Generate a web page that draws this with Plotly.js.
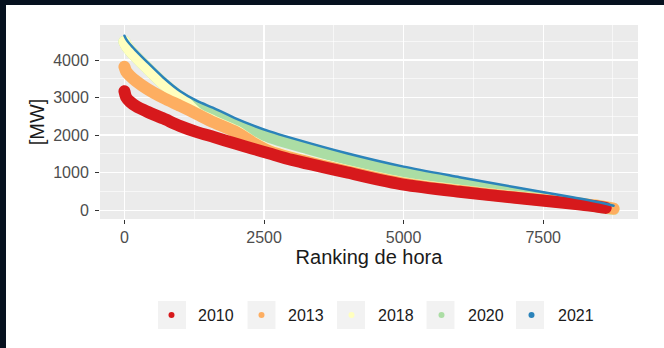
<!DOCTYPE html>
<html>
<head>
<meta charset="utf-8">
<script src="https://cdn.plot.ly/plotly-3.0.1.min.js"></script>
<style>
  html, body { margin: 0; padding: 0; background: #ffffff; }
  #chart { width: 664px; height: 348px; }
  .scatterlayer .js-line { stroke-linecap: round; stroke-linejoin: round; }
</style>
</head>
<body>
<div id="chart"></div>
<script>
// ---- data ----
const years = ["2010", "2013", "2018", "2020", "2021"];
const hours = [0, 30, 100, 200, 400, 700, 1000, 1300, 1600, 2000, 2300, 2600, 3000, 4000, 5000, 6000, 7000, 8000, 8500, 8760];
const hours2010 = [0, 30, 100, 200, 400, 700, 1000, 1300, 1600, 2000, 2300, 2600, 3000, 4000, 5000, 6000, 7000, 8000, 8400, 8620];
const mw2010 = [3170, 3010, 2890, 2780, 2630, 2440, 2240, 2080, 1950, 1770, 1640, 1510, 1340, 1000, 680, 490, 330, 180, 110, 60];
const mw2013 = [3820, 3700, 3580, 3450, 3240, 2990, 2780, 2560, 2340, 2080, 1800, 1570, 1390, 1030, 710, 510, 345, 195, 110, 40];
const mw2018 = [4490, 4400, 4260, 4100, 3800, 3370, 3010, 2580, 2360, 2100, 1810, 1580, 1400, 1040, 720, 520, 350, 200, 110, 40];
const mw2020 = [4490, 4400, 4260, 4100, 3800, 3370, 3010, 2750, 2560, 2280, 2110, 1950, 1770, 1360, 1010, 730, 460, 210, 90, 30];
const mw2021 = [4650, 4560, 4420, 4260, 3960, 3530, 3170, 2910, 2720, 2440, 2260, 2100, 1920, 1510, 1160, 880, 610, 350, 210, 120];
const xTicks = [0, 2500, 5000, 7500];
const yTicks = [0, 1000, 2000, 3000, 4000];

// ---- styles ----
const colors = {"2010": "#d7191c", "2013": "#fdae61", "2018": "#ffffbf", "2020": "#abdda4", "2021": "#2b83ba"};
const series = {
  "2010": {x: hours2010, y: mw2010, w: 12},
  "2013": {x: hours, y: mw2013, w: 12},
  "2018": {x: hours, y: mw2018, w: 12},
  "2020": {x: hours, y: mw2020, w: 12},
  "2021": {x: hours, y: mw2021, w: 2.5}
};
const drawOrder = ["2020", "2018", "2013", "2010", "2021"];

const traces = [];
drawOrder.forEach(function (yr) {
  const s = series[yr];
  traces.push({
    type: "scatter", mode: "lines", x: s.x, y: s.y, name: yr,
    showlegend: false, hoverinfo: "skip",
    line: {color: colors[yr], width: s.w, shape: "spline", smoothing: 0.7}
  });
});
years.forEach(function (yr) {
  traces.push({
    type: "scatter", mode: "markers", x: [null], y: [null], name: yr,
    showlegend: true, marker: {color: colors[yr], size: 6}
  });
});

// ---- layout helpers (pixel -> paper) ----
const W = 664, H = 348, ML = 100, MR = 26, MT = 25, MB = 129;
const PW = W - ML - MR, PH = H - MT - MB;
function px(x) { return (x - ML) / PW; }
function py(y) { return (H - MB - y) / PH; }

const shapes = [
  {type: "rect", xref: "paper", yref: "paper", x0: px(0), x1: px(W), y0: py(5), y1: py(0), fillcolor: "#06111f", line: {width: 0}, layer: "below"},
  {type: "rect", xref: "paper", yref: "paper", x0: px(0), x1: px(6), y0: py(H), y1: py(0), fillcolor: "#06111f", line: {width: 0}, layer: "below"}
];
years.forEach(function (yr, i) {
  const cx = 172 + i * 89.5;
  shapes.push({type: "rect", xref: "paper", yref: "paper", x0: px(cx - 14), x1: px(cx + 14), y0: py(329), y1: py(301),
    fillcolor: "#f2f2f2", line: {width: 0}, layer: "below"});
});

const layout = {
  width: W, height: H,
  margin: {l: ML, r: MR, t: MT, b: MB, pad: 0},
  paper_bgcolor: "#ffffff", plot_bgcolor: "#ebebeb",
  font: {family: "Liberation Sans, Arial, sans-serif", color: "#1a1a1a"},
  xaxis: {
    range: [-438, 9198], tickvals: xTicks, ticktext: xTicks.map(String),
    showgrid: true, gridcolor: "#ffffff", gridwidth: 1.3, zeroline: false, showline: false,
    ticks: "outside", ticklen: 4, tickcolor: "#333333", tickwidth: 1,
    tickfont: {size: 16, color: "#4d4d4d"},
    minor: {dtick: 2500, tick0: 1250, showgrid: true, gridcolor: "#ffffff", gridwidth: 0.6},
    title: {text: "Ranking de hora", font: {size: 20, color: "#1a1a1a"}, standoff: 4},
    automargin: true, fixedrange: true
  },
  yaxis: {
    range: [-235, 4935], tickvals: yTicks, ticktext: yTicks.map(String),
    showgrid: true, gridcolor: "#ffffff", gridwidth: 1.3, zeroline: false, showline: false,
    ticks: "outside", ticklen: 4, tickcolor: "#333333", tickwidth: 1,
    tickfont: {size: 16, color: "#4d4d4d"}, ticklabelstandoff: 3,
    minor: {dtick: 1000, tick0: 500, showgrid: true, gridcolor: "#ffffff", gridwidth: 0.6},
    title: {text: "[MW]", font: {size: 20, color: "#1a1a1a"}, standoff: 3},
    automargin: true, fixedrange: true
  },
  showlegend: true,
  legend: {
    orientation: "h", x: px(145), xanchor: "left", y: py(315), yanchor: "middle",
    font: {size: 16, color: "#1a1a1a"}, bgcolor: "rgba(0,0,0,0)", borderwidth: 0,
    itemwidth: 43, entrywidth: 32, entrywidthmode: "pixels", itemclick: false, itemdoubleclick: false
  },
  shapes: shapes
};

Plotly.newPlot("chart", traces, layout, {displayModeBar: false, staticPlot: true});
</script>
</body>
</html>
